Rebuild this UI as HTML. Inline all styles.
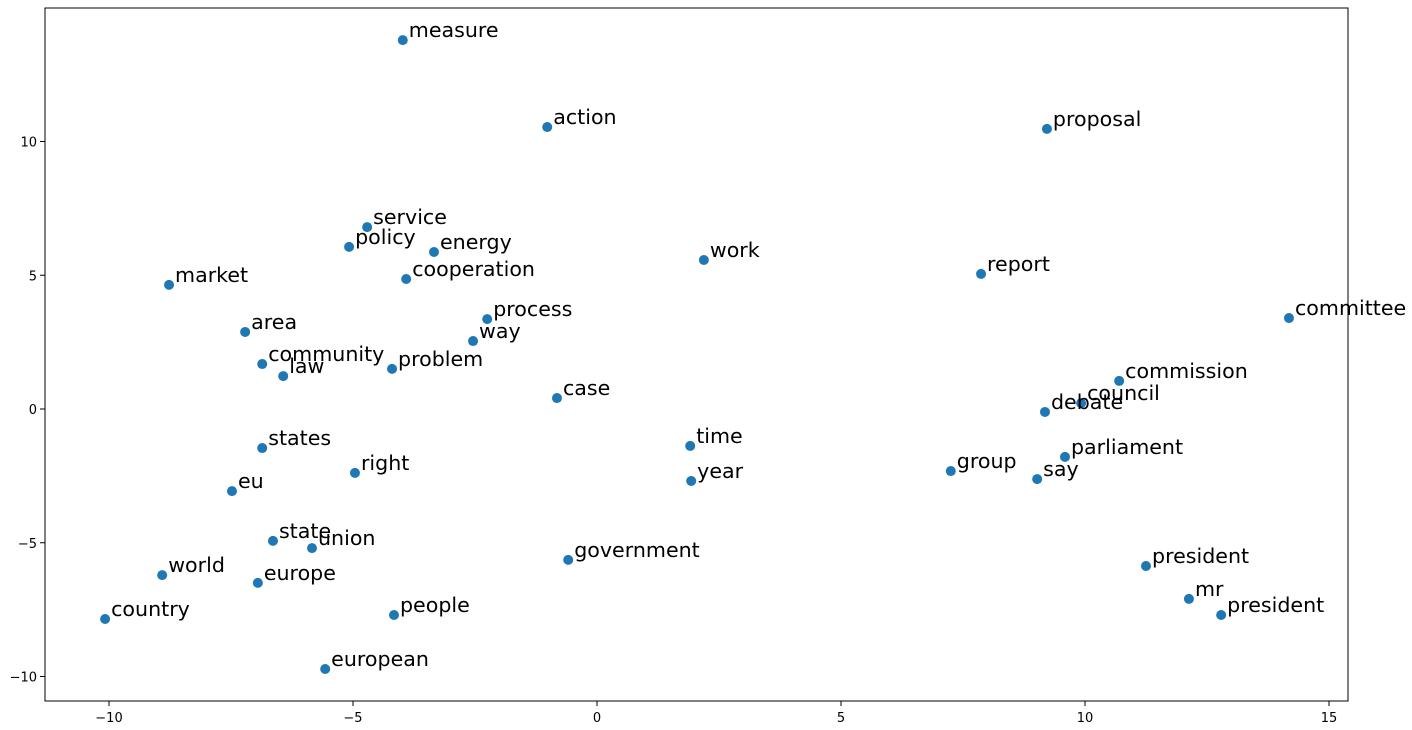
<!DOCTYPE html>
<html><head><meta charset="utf-8"><style>
html,body{margin:0;padding:0;background:#fff;}
svg{display:block;font-family:"DejaVu Sans","Liberation Sans",sans-serif;}
</style></head><body>
<svg id="chart" width="1412" height="730"></svg>
<script>
const words=["measure","action","proposal","service","policy","energy","work","cooperation","report","market","committee","process","area","way","community","law","problem","commission","case","council","debate","time","states","parliament","group","right","year","say","eu","state","union","government","president","world","europe","mr","country","people","president","european"];
const xs=[-3.98,-1.02,9.22,-4.71,-5.08,-3.34,2.19,-3.91,7.87,-8.77,14.18,-2.25,-7.21,-2.54,-6.86,-6.43,-4.20,10.70,-0.82,9.92,9.18,1.91,-6.86,9.59,7.25,-4.96,1.93,9.02,-7.48,-6.64,-5.84,-0.59,11.25,-8.91,-6.95,12.13,-10.08,-4.16,12.79,-5.57];
const ys=[13.79,10.54,10.47,6.80,6.06,5.87,5.57,4.86,5.05,4.64,3.40,3.36,2.88,2.54,1.68,1.23,1.50,1.05,0.41,0.22,-0.11,-1.38,-1.46,-1.79,-2.32,-2.39,-2.69,-2.62,-3.07,-4.93,-5.20,-5.64,-5.87,-6.21,-6.50,-7.10,-7.85,-7.70,-7.70,-9.72];
const xTicks=[-10,-5,0,5,10,15];
const yTicks=[-10,-5,0,5,10];
const NS="http://www.w3.org/2000/svg";
const svg=document.getElementById('chart');
const L=45,R=1348,T=8,B=701;
const sx=v=>597+v*48.8;
const sy=v=>409-v*26.75;
function mk(t,a){const e=document.createElementNS(NS,t);for(const k in a)e.setAttribute(k,a[k]);svg.appendChild(e);return e;}
const frame=mk('rect',{x:L,y:T,width:R-L,height:B-T,fill:'none',stroke:'#000','stroke-width':1});


xTicks.forEach(v=>{
  const l=mk('line',{x1:sx(v),x2:sx(v),y1:B,y2:B+5,stroke:'#000'});
  
  
  const t=mk('text',{x:sx(v),y:B+21,'text-anchor':'middle','font-size':13});
  t.textContent=v<0?'\u2212'+(-v):v;
  
  
});
yTicks.forEach(v=>{
  const l=mk('line',{x1:L-5,x2:L,y1:sy(v),y2:sy(v),stroke:'#000'});
  
  
  const t=mk('text',{x:L-8,y:sy(v)+5,'text-anchor':'end','font-size':13});
  t.textContent=v<0?'\u2212'+(-v):v;
  
  
});
words.forEach((w,i)=>{
  const c=mk('circle',{cx:sx(xs[i]),cy:sy(ys[i]),r:5,fill:'#1f77b4'});
  
  
  const t=mk('text',{x:sx(xs[i])+6,y:sy(ys[i])-3,'font-size':20.6,fill:'#000'});
  t.textContent=w;
  
  
});
</script>
</body></html>
